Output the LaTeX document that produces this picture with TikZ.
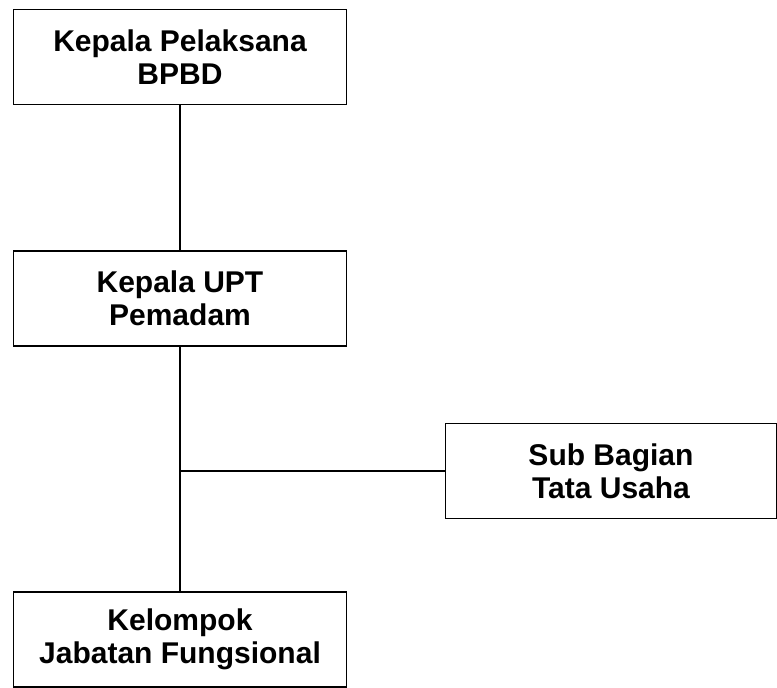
\documentclass[tikz,border=0pt]{standalone}
\usepackage{fontspec}
\setmainfont{Liberation Sans}
\usetikzlibrary{positioning}
\tikzset{
  unitbox/.style={rectangle, draw=black, line width=1.7pt, minimum width=333pt, minimum height=95pt, align=center, font=\fontsize{30}{33}\selectfont\bfseries, inner sep=0pt},
  orgline/.style={line width=1.7pt, black}
}

\begin{document}
\begin{tikzpicture}[x=1pt,y=1pt]
\useasboundingbox (0,0) rectangle (777,-688);
% kolom kiri
\node[unitbox] (head) at (180,-57) {Kepala Pelaksana\\BPBD};
\node[unitbox, below=145pt of head] (upt) {Kepala UPT\\Pemadam};
\node[unitbox, below=244pt of upt] (fung) {Kelompok\\Jabatan Fungsional};
% cabang kanan
\node[unitbox, minimum width=331pt] (tu) at (611,-471) {Sub Bagian\\Tata Usaha};
\draw[orgline] (head) -- (upt);
\draw[orgline] (upt) -- (fung);
\draw[orgline] (tu.west) -- (tu.west -| upt.south);
\end{tikzpicture}
\end{document}
